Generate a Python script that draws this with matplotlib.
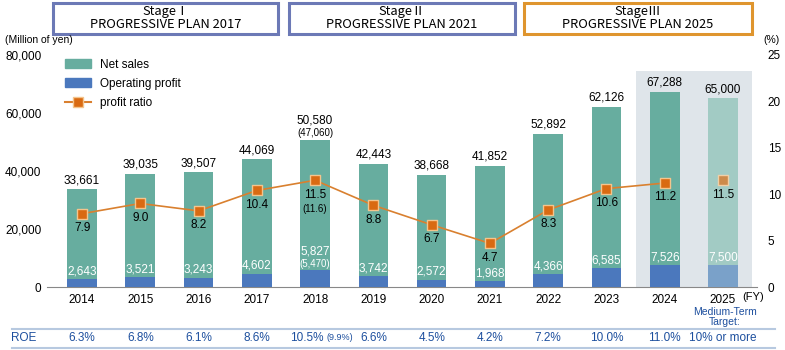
import matplotlib.pyplot as plt
from matplotlib.patches import Rectangle
from matplotlib.lines import Line2D
import numpy as np

plt.rcParams['font.family'] = ['Liberation Sans', 'DejaVu Sans']

years = ['2014', '2015', '2016', '2017', '2018', '2019', '2020', '2021', '2022', '2023', '2024', '2025']
net_sales = [33661, 39035, 39507, 44069, 50580, 42443, 38668, 41852, 52892, 62126, 67288, 65000]
op_profit = [2643, 3521, 3243, 4602, 5827, 3742, 2572, 1968, 4366, 6585, 7526, 7500]
profit_ratio = [7.9, 9.0, 8.2, 10.4, 11.5, 8.8, 6.7, 4.7, 8.3, 10.6, 11.2, 11.5]
roe = ['6.3%', '6.8%', '6.1%', '8.6%', '10.5%', '6.6%', '4.5%', '4.2%', '7.2%', '10.0%', '11.0%', '10% or more']
stages = ['StageⅠ\nPROGRESSIVE PLAN 2017', 'StageⅡ\nPROGRESSIVE PLAN 2021', 'StageⅢ\nPROGRESSIVE PLAN 2025']

teal = '#67ad9f'
blue = '#4b78bd'
orange = '#d9802f'
navy = '#1d4f9e'

fig = plt.figure(figsize=(7.85, 3.5), dpi=100)
ax = fig.add_axes([0.060, 0.18, 0.904, 0.663])
ax2 = ax.twinx()

x = np.arange(len(years))
w = 0.51
n = len(years)

ax.add_patch(Rectangle((9.5, 0), 2.0, 74500, color='#dfe5ea', zorder=0, lw=0))

sales_colors = [teal] * (n - 1) + ['#a2cbc4']
op_colors = [blue] * (n - 1) + ['#7aa1c9']
ax.bar(x, net_sales, w, color=sales_colors, zorder=2)
ax.bar(x, op_profit, w, color=op_colors, zorder=3)

for i in range(n):
    if i == 4:
        continue
    ax.text(x[i], net_sales[i] + 1000, f'{net_sales[i]:,}', ha='center', va='bottom', fontsize=8.5)
    ax.text(x[i], op_profit[i] + 600, f'{op_profit[i]:,}', ha='center', va='bottom', fontsize=8.5, color='white', zorder=4)
# 2018 has restated values in brackets
ax.text(4, net_sales[4] + 700, '(47,060)', ha='center', va='bottom', fontsize=7)
ax.text(4, net_sales[4] + 4700, f'{net_sales[4]:,}', ha='center', va='bottom', fontsize=8.5)
ax.text(4, op_profit[4] + 500, '(5,470)', ha='center', va='bottom', fontsize=7, color='white', zorder=4)
ax.text(4, op_profit[4] + 4500, f'{op_profit[4]:,}', ha='center', va='bottom', fontsize=8.5, color='white', zorder=4)

ax.set_ylim(0, 80000)
ax.set_xlim(-0.6, 11.58)
ax.set_yticks([0, 20000, 40000, 60000, 80000])
ax.set_yticklabels(['0', '20,000', '40,000', '60,000', '80,000'], fontsize=8.5)
ax.set_xticks(x)
ax.set_xticklabels(years, fontsize=8.5)
ax.tick_params(length=0, pad=4)
ax.tick_params(axis='x', pad=5)
for s in ['top', 'left', 'right']:
    ax.spines[s].set_visible(False)
    ax2.spines[s].set_visible(False)
ax.spines['bottom'].set_color('#888888')
ax2.spines['bottom'].set_visible(False)

ax2.plot(x[:-1], profit_ratio[:-1], color=orange, lw=1.2, zorder=5)
ax2.scatter(x[:-1], profit_ratio[:-1], marker='s', s=60, color='#d96a12', edgecolors='#f4c48c', linewidths=1, zorder=6)
ax2.scatter([x[-1]], [profit_ratio[-1]], marker='s', s=60, color='#cd8a4a', edgecolors='#f0cfa6', linewidths=1, zorder=6)
for i in range(n):
    ax2.text(x[i], profit_ratio[i] - 0.9, f'{profit_ratio[i]:.1f}', ha='center', va='top', fontsize=8.5, zorder=7)
ax2.text(4, profit_ratio[4] - 2.6, '(11.6)', ha='center', va='top', fontsize=7, zorder=7)
ax2.set_ylim(0, 25)
ax2.set_yticks([0, 5, 10, 15, 20, 25])
ax2.set_yticklabels(['0', '5', '10', '15', '20', '25'], fontsize=8.5)
ax2.tick_params(length=0, pad=8)

ax.set_zorder(ax2.get_zorder() - 1)
ax.patch.set_visible(False)
ax2.patch.set_visible(False)

# legend
handles = [Rectangle((0, 0), 1, 1, color=teal), Rectangle((0, 0), 1, 1, color=blue),
           Line2D([0], [0], color=orange, marker='s', markersize=7, markerfacecolor='#d96a12', markeredgecolor='#f4c48c')]
ax.legend(handles, ['Net sales', 'Operating profit', 'profit ratio'], loc='upper left',
          bbox_to_anchor=(0.01, 1.03), frameon=False, fontsize=8.5, handlelength=2.2, labelspacing=0.6)

fig.text(0.006, 0.878, '(Million of yen)', fontsize=7.5)
fig.text(0.972, 0.878, '(%)', fontsize=7.5)
fig.text(742 / 785, 1 - 297 / 350, '(FY)', fontsize=8, va='center')
fig.text(725 / 785, 1 - 317 / 350, 'Medium-Term\nTarget:', fontsize=7.5, color=navy, ha='center', va='center',
         linespacing=0.95)

# stage boxes
box_x = [(53, 278), (289, 515), (524, 752)]
box_c = ['#6c79b6', '#6c79b6', '#df952e']
for (x0, x1), c, t in zip(box_x, box_c, stages):
    fig.patches.append(Rectangle((x0 / 785, 1 - 34 / 350), (x1 - x0) / 785, 31 / 350,
                                 transform=fig.transFigure, fill=False, edgecolor=c, lw=2.2))
    fig.text((x0 + x1) / 2 / 785, 1 - 18.5 / 350, t, ha='center', va='center', fontsize=9.3,
             linespacing=1.0, family=['Noto Sans CJK JP', 'DejaVu Sans'])

# ROE row
for yy in [329, 348]:
    fig.add_artist(Line2D([12 / 785, 775 / 785], [1 - yy / 350] * 2, color='#b7c9e0', lw=1.5))
fig.text(24 / 785, 1 - 338 / 350, 'ROE', fontsize=8.5, color=navy, ha='center', va='center')
disp = ax.transData
for i in range(n):
    fx = fig.transFigure.inverted().transform(disp.transform((x[i], 0)))[0]
    if i == 4:
        fig.text(fx - 0.010, 1 - 338 / 350, '10.5%', fontsize=8.5, color=navy, ha='center', va='center')
        fig.text(fx + 0.032, 1 - 338 / 350, '(9.9%)', fontsize=6.5, color=navy, ha='center', va='center')
    else:
        fig.text(fx, 1 - 338 / 350, roe[i], fontsize=8.5, color=navy, ha='center', va='center')

fig.savefig('out.png', dpi=100)
